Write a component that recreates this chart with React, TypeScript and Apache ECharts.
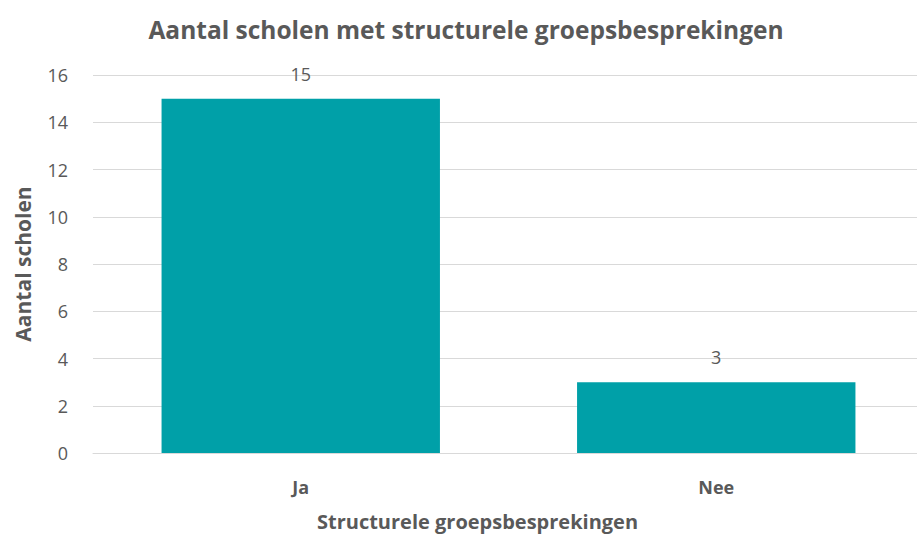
import React, { useEffect, useRef } from "react";
import * as echarts from "echarts";

const categories = ["Ja", "Nee"];
const values = [15, 3];
const yTicks = { min: 0, max: 16, interval: 2 };
const titleText = "Aantal scholen met structurele groepsbesprekingen";
const xAxisName = "Structurele groepsbesprekingen";
const yAxisName = "Aantal scholen";

export default function App() {
  const ref = useRef<HTMLDivElement>(null);
  useEffect(() => {
    if (!ref.current) return;
    const chart = echarts.init(ref.current, undefined, { renderer: "svg" });
    const font = "'Open Sans', Lato, sans-serif";
    chart.setOption({
      animation: false,
      backgroundColor: "#ffffff",
      textStyle: { fontFamily: font },
      title: {
        text: titleText,
        left: 461,
        top: 12,
        textAlign: "center",
        textStyle: { color: "#595959", fontSize: 24.5, fontWeight: "bold", fontFamily: font },
      },
      grid: { left: 93, right: -7, top: 75, bottom: 87, containLabel: false, outerBoundsMode: "none" },
      xAxis: {
        type: "category",
        data: categories,
        axisLine: { show: true, lineStyle: { color: "#d9d9d9" } },
        axisTick: { show: false },
        axisLabel: { color: "#595959", fontSize: 18, fontWeight: "bold", margin: 25, fontFamily: font },
        name: xAxisName,
        nameLocation: "middle",
        nameGap: 58,
        nameTextStyle: { color: "#595959", fontSize: 20, fontWeight: "bold", padding: [0, 62, 0, 0], fontFamily: font },
      },
      yAxis: {
        type: "value",
        min: yTicks.min,
        max: yTicks.max,
        interval: yTicks.interval,
        axisLine: { show: false },
        axisTick: { show: false },
        splitLine: { lineStyle: { color: "#d9d9d9", width: 1 } },
        axisLabel: { color: "#595959", fontSize: 18, margin: 25, fontFamily: font },
        name: yAxisName,
        nameLocation: "middle",
        nameGap: 60,
        nameTextStyle: { color: "#595959", fontSize: 21, fontWeight: "bold", fontFamily: font },
      },
      series: [
        {
          type: "bar",
          data: values,
          barWidth: "67%",
          itemStyle: { color: "#00A0A8" },
          label: {
            show: true,
            position: "top",
            distance: 16,
            color: "#595959",
            fontSize: 18,
            fontFamily: font,
          },
        },
      ],
    });
    return () => chart.dispose();
  }, []);
  return <div ref={ref} style={{ width: 917, height: 540, position: "absolute", left: 0, top: 0 }} />;
}
